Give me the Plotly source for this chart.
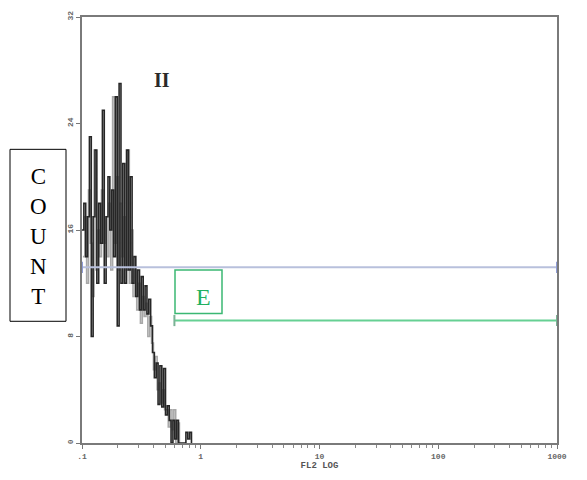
import plotly.graph_objects as go

# Histogram channels (256-channel, 4-decade log scale) and counts
channels = list(range(0, 60))
counts_dark = [16, 18, 14, 17, 23, 8, 17, 22, 12, 18,
               15, 25, 12, 17, 20, 16, 19, 14, 26, 8.8,
               27, 12, 21, 12, 22, 13, 20, 12, 14, 11,
               13, 10, 12.5, 10, 11.8, 9.7, 10.8, 8.8, 6.8, 4.9,
               6, 2.9, 5.8, 2.7, 5.6, 2.1, 2.8, 1.7, 0, 1.7,
               0.3, 1.7, 0, 0, 0, 0, 0.8, 0.3, 0.8, 0]
gray_channels = [c + 0.5 for c in range(0, 53)]
counts_gray = [14, 17, 12, 19, 15, 11, 22, 13, 16, 14,
               19, 15, 17, 14, 18, 13, 26, 15, 20, 13,
               18, 14, 17, 13, 22, 12, 16, 11, 13, 10,
               12, 9, 11, 9.5, 10.5, 8, 9.5, 7.5, 5.5, 6.5,
               4, 4.5, 3, 4, 2.5, 2.5, 1.2, 2.5, 1, 2.5,
               0, 1.5, 0]

# Marker gates (FL2 range, display level in counts)
gate_all = [0.1, 1000]
gate_all_level = 13.2
gate_E = [0.6, 1000]
gate_E_level = 9.2

x_tickvals = [0.1, 1, 10, 100, 1000]
x_ticktext = [".1", "1", "10", "100", "1000"]
y_tickvals = [0, 8, 16, 24, 32]
y_ticktext = ["0", "8", "16", "24", "32"]


def ch_to_fl2(c):
    return 10 ** (c / 64.0 - 1)


fig = go.Figure()

fig.add_trace(go.Scatter(
    x=[ch_to_fl2(c) for c in gray_channels], y=counts_gray,
    mode="lines", line=dict(color="#a8a8a8", width=1.6, shape="hv"),
    hoverinfo="skip", showlegend=False))
fig.add_trace(go.Scatter(
    x=[ch_to_fl2(c) for c in channels], y=counts_dark,
    mode="lines", line=dict(color="#262626", width=1.6, shape="hv"),
    hoverinfo="skip", showlegend=False))

# Gate markers
fig.add_trace(go.Scatter(
    x=gate_all, y=[gate_all_level] * 2, mode="lines+markers",
    line=dict(color="#b8c0dc", width=2),
    marker=dict(symbol="line-ns", size=8, color="#8f9cd6",
                line=dict(color="#8f9cd6", width=2)),
    hoverinfo="skip", showlegend=False, cliponaxis=False))
fig.add_trace(go.Scatter(
    x=gate_E, y=[gate_E_level] * 2, mode="lines+markers",
    line=dict(color="#66d093", width=2),
    marker=dict(symbol="line-ns", size=8, color="#7ab294",
                line=dict(color="#7ab294", width=2)),
    hoverinfo="skip", showlegend=False, cliponaxis=False))

minor_vals = [d * m for d in [0.1, 1, 10, 100] for m in range(2, 10)]

tickfont = dict(family="Liberation Mono", size=8, color="#666666", weight="bold")

fig.update_layout(
    width=587, height=480,
    margin=dict(l=82, r=30, t=11, b=28),
    paper_bgcolor="white", plot_bgcolor="white",
    xaxis=dict(
        type="log", range=[-1, 3],
        tickmode="array", tickvals=x_tickvals, ticktext=x_ticktext,
        ticks="outside", ticklen=4, tickwidth=1, tickcolor="#777777",
        minor=dict(tickmode="array", tickvals=minor_vals, ticks="outside",
                   ticklen=3, tickcolor="#888888", showgrid=False),
        showline=True, linecolor="#7a7a7a", linewidth=2, mirror=True,
        showgrid=False, zeroline=False,
        tickfont=tickfont,
        title=dict(text="FL2 LOG", font=dict(family="Liberation Mono", size=9,
                                             color="#555555", weight="bold"),
                   standoff=2),
    ),
    yaxis=dict(
        range=[0, 32],
        tickmode="array", tickvals=y_tickvals, ticktext=y_ticktext,
        tickangle=-90,
        ticks="outside", ticklen=4, tickwidth=1, tickcolor="#777777",
        showline=True, linecolor="#7a7a7a", linewidth=2, mirror=True,
        showgrid=False, zeroline=False,
        tickfont=tickfont,
    ),
    shapes=[
        dict(type="rect", xref="paper", yref="paper",
             x0=(10 - 82) / 475, x1=(66 - 82) / 475,
             y0=(452 - 326) / 441, y1=(452 - 148) / 441,
             line=dict(color="black", width=1), fillcolor="white"),
        dict(type="rect", xref="paper", yref="paper",
             x0=(175 - 82) / 475, x1=(222 - 82) / 475,
             y0=(452 - 318) / 441, y1=(452 - 273) / 441,
             line=dict(color="#3bb873", width=1.5), fillcolor="white"),
    ],
    annotations=[
        dict(text="C<br>O<br>U<br>N<br>T", xref="paper", yref="paper",
             x=(38 - 82) / 475, y=(452 - 238) / 441,
             xanchor="center", yanchor="middle", showarrow=False,
             font=dict(family="Liberation Serif", size=23, color="black")),
        dict(text="E", xref="paper", yref="paper",
             x=(203 - 82) / 475, y=(452 - 301) / 441,
             xanchor="center", yanchor="middle", showarrow=False,
             font=dict(family="Liberation Serif", size=24, color="#22b060")),
        dict(text="<b>II</b>", xref="paper", yref="paper",
             x=(162 - 82) / 475, y=(452 - 76) / 441,
             xanchor="center", yanchor="middle", showarrow=False,
             font=dict(family="Liberation Serif", size=20, color="#2a2a2a")),
    ],
)

fig.write_html("out.html")
